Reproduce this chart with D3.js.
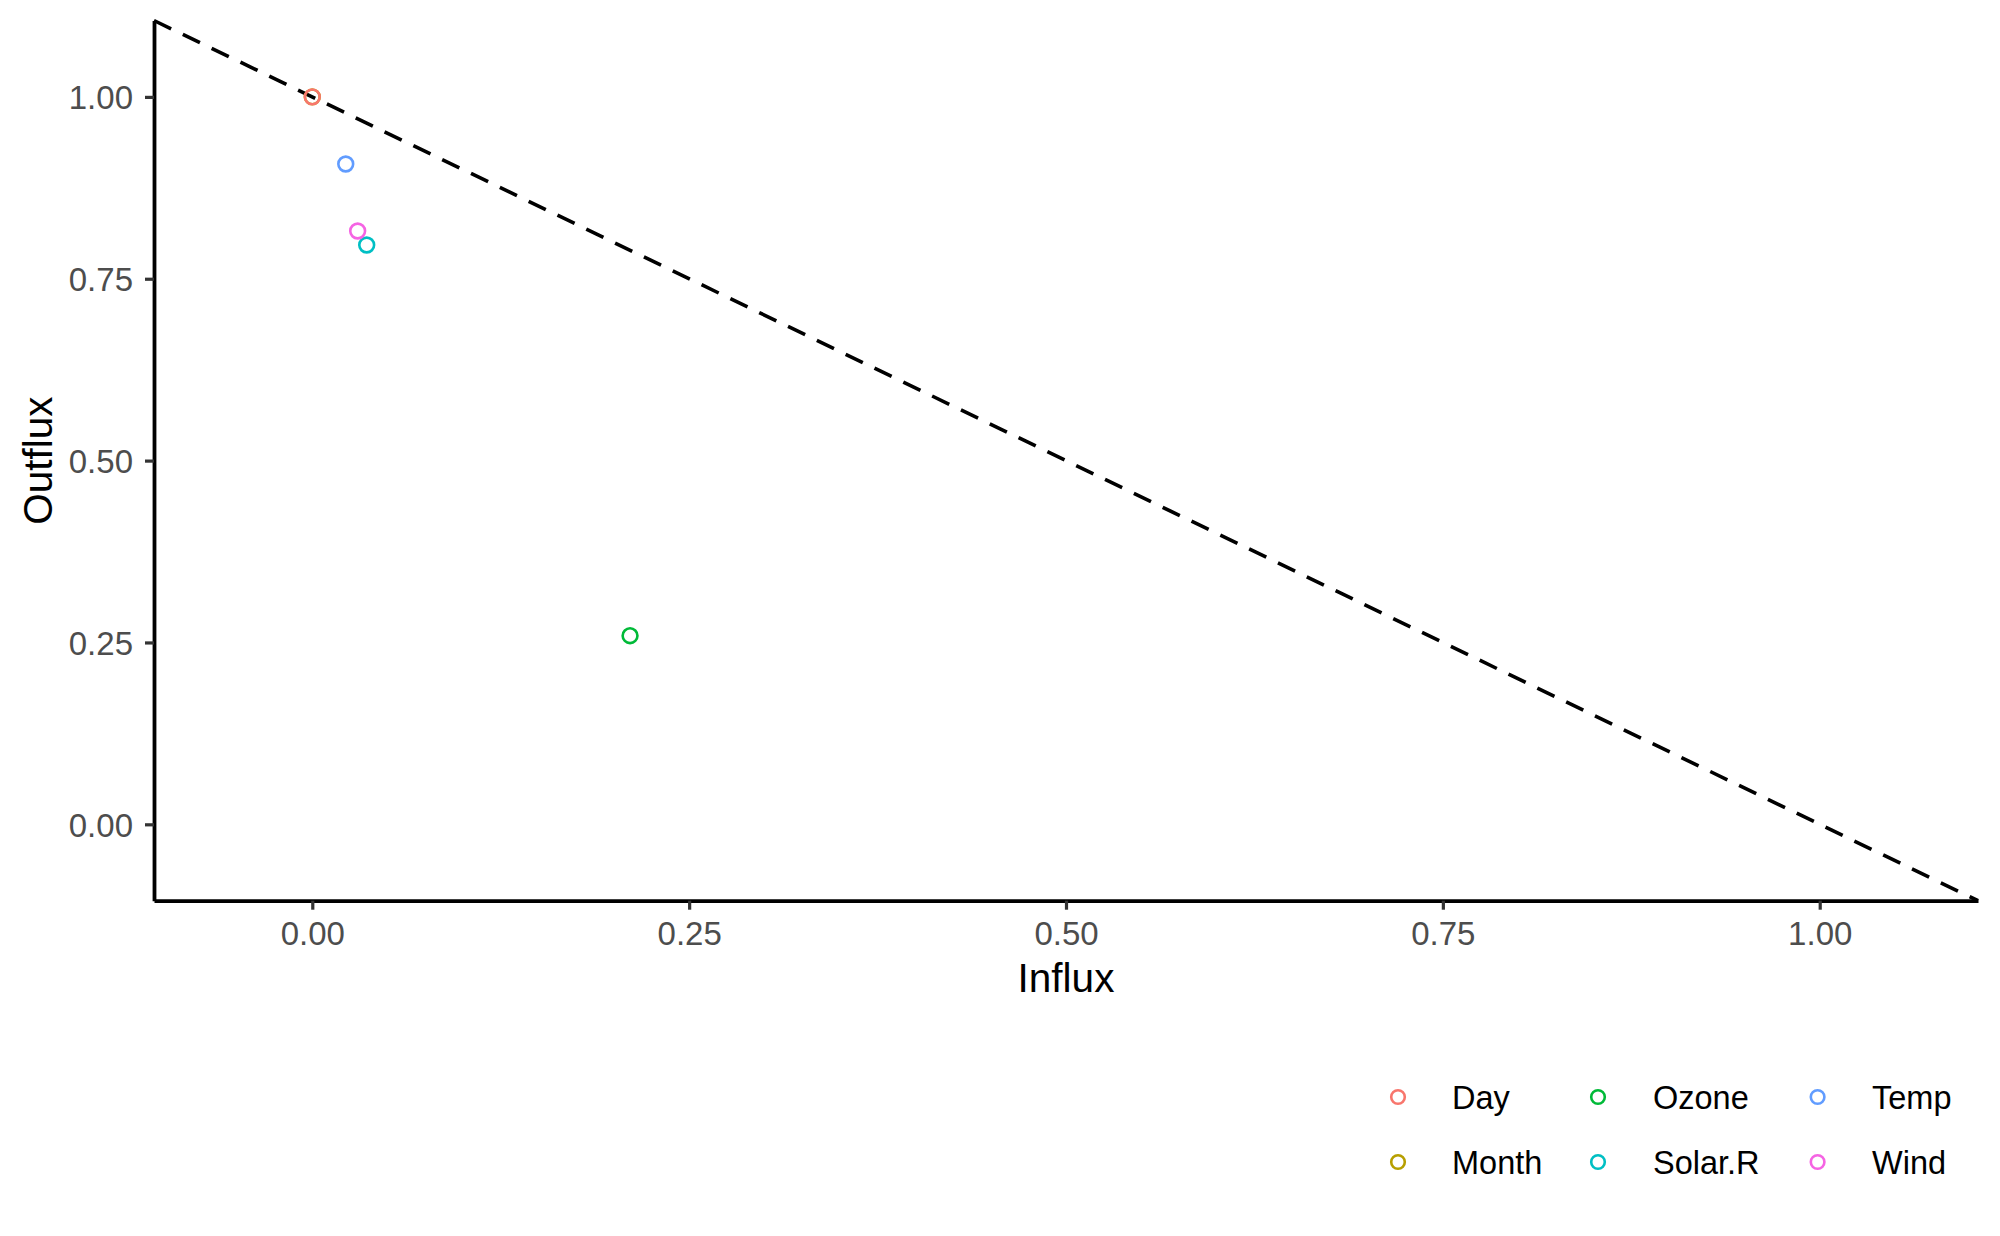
<!DOCTYPE html>
<html>
<head>
<meta charset="utf-8">
<script src="https://cdn.jsdelivr.net/npm/d3@7"></script>
<style>
  html, body { margin: 0; padding: 0; background: #ffffff; }
  svg { display: block; font-family: "Liberation Sans", Arial, Helvetica, sans-serif; }
</style>
</head>
<body>
<svg id="chart" width="2000" height="1236"></svg>
<script>
// ---- data (draw order as in the source data) ----
const variables = ["Ozone", "Solar.R", "Wind", "Temp", "Month", "Day"];
const influx    = [0.2108, 0.0361, 0.0301, 0.0222, 0.0, 0.0];
const outflux   = [0.2593, 0.7964, 0.8156, 0.9077, 1.0, 1.0];

// legend / colour order
const legendOrder = ["Day", "Month", "Ozone", "Solar.R", "Temp", "Wind"];
const legendColors = ["#F8766D", "#B79F00", "#00BA38", "#00BFC4", "#619CFF", "#F564E3"];

const xTicks = [0, 0.25, 0.5, 0.75, 1.0];
const yTicks = [0, 0.25, 0.5, 0.75, 1.0];
const xTickLabels = ["0.00", "0.25", "0.50", "0.75", "1.00"];
const yTickLabels = ["0.00", "0.25", "0.50", "0.75", "1.00"];
const xDomain = [-0.105, 1.105];
const yDomain = [-0.105, 1.105];

(function () {
  // ---- layout ----
  const svg = d3.select("#chart");
  const mLeft = 154, mRight = 1978, mTop = 20.5, mBottom = 900.7;

  const x = d3.scaleLinear().domain(xDomain).range([mLeft, mRight]);
  const y = d3.scaleLinear().domain(yDomain).range([mBottom, mTop]);
  const color = d3.scaleOrdinal().domain(legendOrder).range(legendColors);

  // reference line y = 1 - x
  const refLine = d3.line().x(d => x(d[0])).y(d => y(d[1]));
  svg.append("path")
    .datum([[xDomain[0], 1 - xDomain[0]], [xDomain[1], 1 - xDomain[1]]])
    .attr("d", refLine)
    .attr("fill", "none")
    .attr("stroke", "#000")
    .attr("stroke-width", 3.6)
    .attr("stroke-dasharray", "19,13");

  // x axis
  const xAxis = d3.axisBottom(x)
    .tickValues(xTicks)
    .tickFormat((d, i) => xTickLabels[i])
    .tickSizeInner(9).tickSizeOuter(0);
  const gx = svg.append("g").attr("transform", `translate(0,${mBottom})`).call(xAxis);
  gx.select(".domain").attr("stroke", "#000").attr("stroke-width", 3.8);
  gx.selectAll(".tick line").attr("stroke", "#333").attr("stroke-width", 3.2);
  gx.selectAll(".tick text")
    .attr("y", 44.3).attr("dy", 0)
    .attr("fill", "#4D4D4D")
    .style("font-size", "33px")
    .style("font-family", "'Liberation Sans', Arial, sans-serif");

  // y axis
  const yAxis = d3.axisLeft(y)
    .tickValues(yTicks)
    .tickFormat((d, i) => yTickLabels[i])
    .tickSizeInner(9).tickSizeOuter(0);
  const gy = svg.append("g").attr("transform", `translate(${mLeft},0)`).call(yAxis);
  gy.select(".domain").attr("stroke", "#000").attr("stroke-width", 3.8);
  gy.selectAll(".tick line").attr("stroke", "#333").attr("stroke-width", 3.2);
  gy.selectAll(".tick text")
    .attr("x", -21).attr("dy", "0.36em")
    .attr("fill", "#4D4D4D")
    .style("font-size", "33px")
    .style("font-family", "'Liberation Sans', Arial, sans-serif");

  // axis titles
  svg.append("text")
    .attr("x", (mLeft + mRight) / 2).attr("y", 991.7)
    .attr("text-anchor", "middle")
    .style("font-size", "40.5px").attr("fill", "#000")
    .text("Influx");
  svg.append("text")
    .attr("transform", `translate(52,${(mTop + mBottom) / 2}) rotate(-90)`)
    .attr("text-anchor", "middle")
    .style("font-size", "40.5px").attr("fill", "#000")
    .text("Outflux");

  // points
  const pts = variables.map((v, i) => ({ v, fx: influx[i], fy: outflux[i] }));
  svg.append("g").selectAll("circle").data(pts).join("circle")
    .attr("cx", d => x(d.fx))
    .attr("cy", d => y(d.fy))
    .attr("r", 7.4)
    .attr("fill", "none")
    .attr("stroke", d => color(d.v))
    .attr("stroke-width", 2.6);

  // legend (column-major, 2 rows x 3 columns)
  const colKeyX = [1398, 1598, 1817.6];
  const colTextX = [1452, 1653, 1872];
  const rowY = [1097, 1162];
  const lg = svg.append("g");
  legendOrder.forEach((name, i) => {
    const c = Math.floor(i / 2), r = i % 2;
    lg.append("circle")
      .attr("cx", colKeyX[c]).attr("cy", rowY[r])
      .attr("r", 6.8)
      .attr("fill", "none")
      .attr("stroke", color(name))
      .attr("stroke-width", 2.6);
    lg.append("text")
      .attr("x", colTextX[c]).attr("y", rowY[r])
      .attr("dy", "0.36em")
      .style("font-size", "32.5px").attr("fill", "#000")
      .text(name);
  });
})();
</script>
</body>
</html>
